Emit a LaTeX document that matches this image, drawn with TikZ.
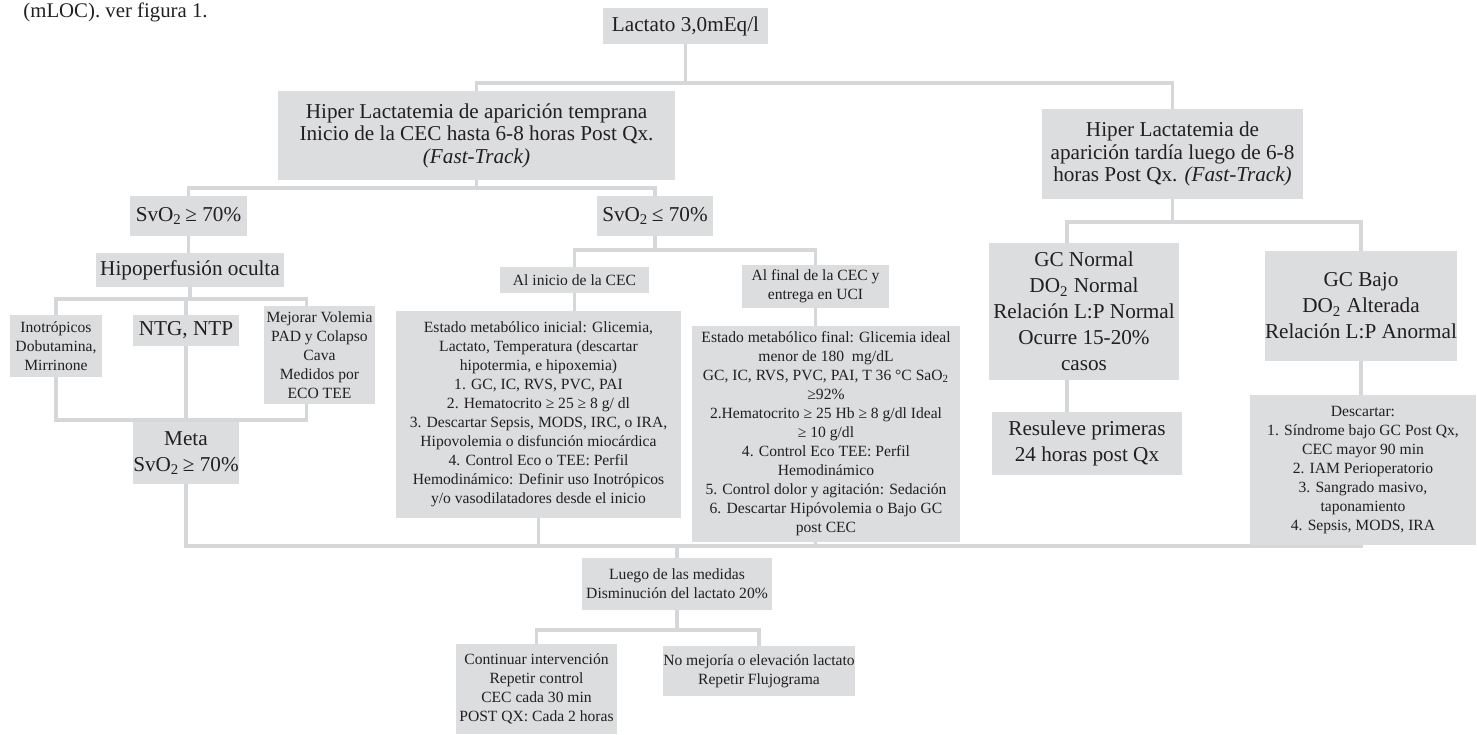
\documentclass[tikz,border=0pt]{standalone}
\usepackage{fontspec}
\setmainfont{Liberation Serif}
\usepackage{tikz}
\usetikzlibrary{backgrounds}
\definecolor{gris}{RGB}{220,221,223}
\definecolor{trazo}{RGB}{214,215,217}
\definecolor{tinta}{RGB}{35,31,32}

\begin{document}
\begin{tikzpicture}[x=0.5pt, y=-0.5pt,
    caja/.style={fill=gris, text=tinta, align=center, inner sep=0pt},
    grande/.style={font=\fontsize{10.6}{11.3}\selectfont},
    alta/.style={font=\fontsize{10.6}{13}\selectfont},
    chica/.style={font=\fontsize{7.8}{9.5}\selectfont},
    linea/.style={draw=trazo, line width=1.75pt}]
    \useasboundingbox (0,0) rectangle (1477,734);

    %% resto del texto de la pagina
    \node[anchor=base west, inner sep=0pt, text=tinta, font=\fontsize{10.4}{12}\selectfont] (cita) at (23,17) {(mLOC). ver figura 1.};

    %% niveles de las barras
    \coordinate (y1) at (0,83);
    \coordinate (y2) at (0,188);
    \coordinate (y3) at (0,299);
    \coordinate (y4) at (0,420);
    \coordinate (y5) at (0,250);
    \coordinate (y6) at (0,546);
    \coordinate (y7) at (0,630);
    \coordinate (y8) at (0,222);

    %% Inicio
    \node[caja, grande, minimum width=82.5pt, minimum height=18pt] (lact) at (685.5,26) {Lactato 3,0mEq/l};
    \node[caja, grande, minimum width=198.5pt, minimum height=44.5pt] (tempr) at (476.5,135.5)
    {Hiper Lactatemia de aparición temprana\\Inicio de la CEC hasta 6-8 horas Post Qx.\\\textit{(Fast-Track)}};
    \node[caja, grande, minimum width=130.5pt, minimum height=45pt] (tard) at (1172.5,154)
    {Hiper Lactatemia de\\aparición tardía luego de 6-8\\horas Post Qx. \textit{(Fast-Track)}};

    %% Rama temprana, SvO2 alta
    \node[caja, grande, minimum width=58.5pt, minimum height=20pt] (svoA) at (188.5,216) {SvO\textsubscript{2}\,≥ 70\%};
    \node[caja, grande, minimum width=94pt, minimum height=17pt] (hipo) at (190,270) {Hipoperfusión oculta};
    \node[caja, chica, minimum width=46pt, minimum height=31pt] (ino) at (56,346) {Inotrópicos\\Dobutamina,\\Mirrinone};
    \node[caja, grande, minimum width=53pt, minimum height=15.5pt] (ntg) at (186,330.5) {NTG, NTP};
    \node[caja, chica, minimum width=55.5pt, minimum height=49pt] (mej) at (319.5,355)
    {Mejorar Volemia\\PAD y Colapso\\Cava\\Medidos por\\ECO TEE};
    \node[caja, alta, minimum width=52pt, minimum height=31pt] (meta) at (186,453) {Meta\\SvO\textsubscript{2}\,≥ 70\%};

    %% Rama temprana, SvO2 baja
    \node[caja, grande, minimum width=58pt, minimum height=20pt] (svoB) at (655,216) {SvO\textsubscript{2}\,≤ 70\%};
    \node[caja, chica, minimum width=74.5pt, minimum height=13pt] (ini) at (574.5,280) {Al inicio de la CEC};
    \node[caja, chica, minimum width=142.5pt, minimum height=103.5pt] (ibox) at (538.5,414.5)
    {Estado metabólico inicial: Glicemia,\\Lactato, Temperatura (descartar\\hipotermia, e hipoxemia)\\1. GC, IC, RVS, PVC, PAI\\2. Hematocrito ≥ 25 ≥ 8 g/ dl\\3. Descartar Sepsis, MODS, IRC, o IRA,\\Hipovolemia o disfunción miocárdica\\4. Control Eco o TEE: Perfil\\Hemodinámico: Definir uso Inotrópicos\\y/o vasodilatadores desde el inicio};
    \node[caja, chica, minimum width=73.5pt, minimum height=21.5pt] (fin) at (815.5,286.5) {Al final de la CEC y\\entrega en UCI};
    \node[caja, chica, minimum width=134pt, minimum height=108pt] (fbox) at (826,434)
    {Estado metabólico final: Glicemia ideal\\menor de 180~ mg/dL\\GC, IC, RVS, PVC, PAI, T 36 °C SaO\textsubscript{2}\\≥92\%\\2.Hematocrito ≥ 25 Hb ≥ 8 g/dl Ideal\\≥ 10 g/dl\\4. Control Eco TEE: Perfil\\Hemodinámico\\5. Control dolor y agitación: Sedación\\6. Descartar Hipóvolemia o Bajo GC\\post CEC};

    %% Rama tardia
    \node[caja, alta, minimum width=95pt, minimum height=68.5pt] (gcn) at (1084,311.5)
    {GC Normal\\DO\textsubscript{2} Normal\\Relación L:P Normal\\Ocurre 15-20\%\\casos};
    \node[caja, alta, minimum width=95pt, minimum height=55pt] (gcb) at (1361,306)
    {GC Bajo\\DO\textsubscript{2} Alterada\\Relación L:P Anormal};
    \node[caja, alta, minimum width=95pt, minimum height=31.5pt] (res) at (1087,443.5) {Resuleve primeras\\24 horas post Qx};
    \node[caja, chica, minimum width=113pt, minimum height=75pt] (desc) at (1363,470)
    {Descartar:\\1. Síndrome bajo GC Post Qx,\\CEC mayor 90 min\\2. IAM Perioperatorio\\3. Sangrado masivo,\\taponamiento\\4. Sepsis, MODS, IRA};

    %% Control
    \node[caja, chica, minimum width=95pt, minimum height=26pt] (lue) at (677,584) {Luego de las medidas\\Disminución del lactato 20\%};
    \node[caja, chica, minimum width=80.5pt, minimum height=45pt] (cont) at (536.5,689)
    {Continuar intervención\\Repetir control\\CEC cada 30 min\\POST QX: Cada 2 horas};
    \node[caja, chica, minimum width=94pt, minimum height=25pt] (nom) at (759,671) {No mejoría o elevación lactato\\Repetir Flujograma};

    \begin{scope}[on background layer]
    \draw[linea] (lact) -- (lact |- y1) -| (tempr);
    \draw[linea] (lact |- y1) -| (tard);
    \draw[linea] (tempr) -- (tempr |- y2) -| (svoA);
    \draw[linea] (tempr |- y2) -| (svoB);
    \draw[linea] (svoA) -- (svoA |- hipo.north);
    \draw[linea] (hipo) -- (hipo |- y3) -| (ino);
    \draw[linea] (hipo |- y3) -| (ntg);
    \draw[linea] (hipo |- y3) -| ([xshift=-6.5pt]mej.north);
    \draw[linea] (ino) -- (ino |- y4) -| ([xshift=-6.5pt]mej.south);
    \draw[linea] (ntg) -- (meta);
    \draw[linea] (meta) -- (meta |- y6) -| (gcb);
    \draw[linea] (svoB) -- (svoB |- y5) -| (ini);
    \draw[linea] (svoB |- y5) -| (fin);
    \draw[linea] (ini) -- (ini |- ibox.north);
    \draw[linea] (fin) -- (fin |- fbox.north);
    \draw[linea] (ibox) -- (ibox |- y6);
    \draw[linea] (fbox.south -| fin) -- (fin |- y6);
    \draw[linea] (lue |- y6) -- (lue);
    \draw[linea] (lue) -- (lue |- y7) -| (cont);
    \draw[linea] (lue |- y7) -| (nom);
    \draw[linea] (tard) -- (tard |- y8) -| ([xshift=-8.5pt]gcn.north);
    \draw[linea] (tard |- y8) -| (gcb);
    \draw[linea] ([xshift=-8.5pt]gcn.south) -- ([xshift=-8.5pt]gcn.south |- res.north);
    \end{scope}
\end{tikzpicture}
\end{document}
